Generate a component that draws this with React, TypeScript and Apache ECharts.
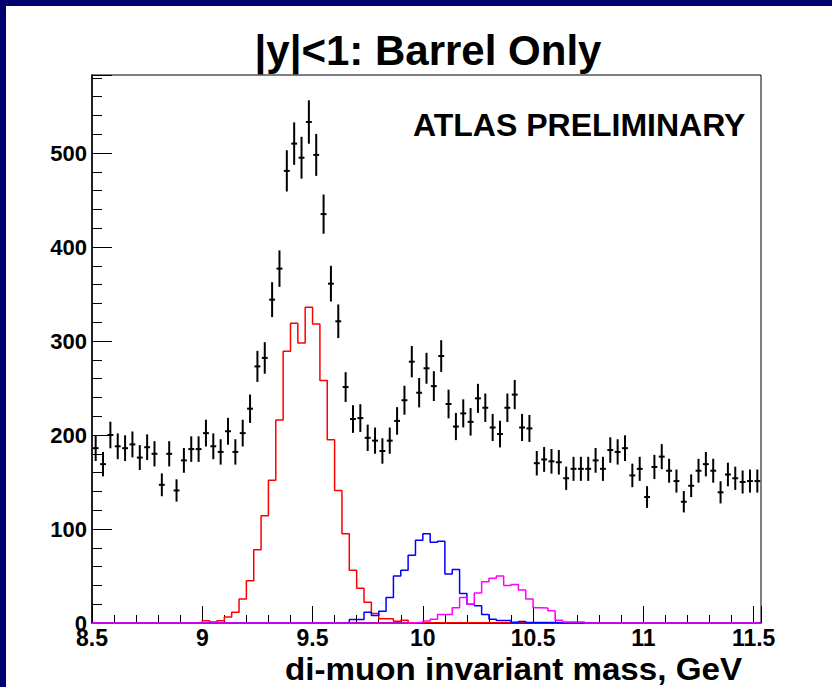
import React, { useEffect, useRef } from "react";
import * as echarts from "echarts";

// Histogram binning: 91 bins of 1/30 GeV starting at 8.5 GeV
const MASS_MIN = 8.5;
const BIN_WIDTH = 1 / 30;
const N_BINS = 91;

// Observed di-muon candidates per bin
const dataCounts = [
  186, 169, 200, 188, 186, 190, 176, 187, 180, 147,
  180, 141, 173, 185, 185, 202, 188, 182, 204, 182,
  202, 228, 273, 282, 344, 377, 481, 510, 495, 533,
  498, 435, 361, 321, 251, 217, 218, 197, 194, 183,
  194, 215, 237, 278, 245, 271, 252, 284, 233, 209,
  223, 214, 239, 229, 208, 201, 229, 243, 208, 207,
  170, 174, 172, 171, 154, 164, 164, 164, 173, 164,
  184, 182, 186, 157, 164, 134, 166, 177, 162, 151,
  129, 146, 162, 169, 162, 139, 158, 154, 150, 151,
  151,
];

// Simulated Upsilon(1S) signal
const upsilon1S = [
  0, 0, 0, 0, 0, 0, 0, 0, 0, 0,
  0, 0, 0, 0, 0, 2.5, 1, 2.3, 6.5, 11.5,
  25.5, 45, 78, 114, 152, 216, 289, 319, 298, 336,
  318, 258, 195, 141, 95, 56, 37, 22, 10, 4.4,
  4.4, 1.8, 2.9, 0.3, 0.3, 0.3, 0.3, 0.3, 0.3, 0.3,
  0.3, 0.3, 0.3, 0.3, 0.3, 0.3, 0.3, 0.3, 0.3, 0,
  0, 0, 0, 0, 0, 0, 0, 0, 0, 0,
  0, 0, 0, 0, 0, 0, 0, 0, 0, 0,
  0, 0, 0, 0, 0, 0, 0, 0, 0, 0,
  0,
];

// Simulated Upsilon(2S) signal
const upsilon2S = [
  0, 0, 0, 0, 0, 0, 0, 0, 0, 0,
  0, 0, 0, 0, 0, 0, 0, 0, 0, 0,
  0, 0, 0, 0, 0, 0, 0, 0, 0, 0,
  0, 0, 0, 0, 0, 3.6, 3.6, 11.5, 8, 12.6,
  27, 50, 56, 72, 88, 95, 86, 87, 52, 57,
  31.5, 20, 18.4, 9, 4, 2.7, 2.7, 0.7, 1.5, 0.5,
  0.5, 0.5, 0.5, 0.3, 0.3, 0.3, 0.3, 0, 0, 0,
  0, 0, 0, 0, 0, 0, 0, 0, 0, 0,
  0, 0, 0, 0, 0, 0, 0, 0, 0, 0,
  0,
];

// Simulated Upsilon(3S) signal
const upsilon3S = [
  0, 0, 0, 0, 0, 0, 0, 0, 0, 0,
  0, 0, 0, 0, 0, 0, 0, 0, 0, 0,
  0, 0, 0, 0, 0, 0, 0, 0, 0, 0,
  0, 0, 0, 0, 0, 0, 0, 0, 0, 0,
  0, 0, 0, 0, 0.7, 2.2, 4, 9, 9, 16.3,
  27, 20, 32, 44, 47.5, 50, 40, 41, 35, 25.5,
  16.3, 16, 13, 3, 1, 1, 1, 0, 0, 0,
  0, 0, 0, 0, 0, 0, 0, 0, 0, 0,
  0, 0, 0, 0, 0, 0, 0, 0, 0, 0,
  0,
];

const Y_MAX = 583;
const MASS_MAX = MASS_MIN + N_BINS * BIN_WIDTH;

const FONT = '"Liberation Sans", Arial, Helvetica, sans-serif';
const NAVY = "#00006e";

// Step outline of a histogram: each bin contributes its low and high edge
function histogramOutline(values: number[]): number[][] {
  const pts: number[][] = [];
  values.forEach((v, i) => {
    pts.push([MASS_MIN + i * BIN_WIDTH, v]);
    pts.push([MASS_MIN + (i + 1) * BIN_WIDTH, v]);
  });
  return pts;
}

function stepSeries(name: string, values: number[], color: string) {
  return {
    name,
    type: "line",
    data: histogramOutline(values),
    symbol: "none",
    showSymbol: false,
    clip: false,
    lineStyle: { color, width: 1.5 },
    emphasis: { disabled: true },
    silent: true,
  };
}

export default function App() {
  const ref = useRef<HTMLDivElement>(null);

  useEffect(() => {
    if (!ref.current) return;
    const chart = echarts.init(ref.current, undefined, { renderer: "svg" });

    const points = dataCounts.map((n, i) => [
      MASS_MIN + (i + 0.5) * BIN_WIDTH,
      n,
      Math.sqrt(n),
    ]);

    const option = {
      animation: false,
      backgroundColor: "#ffffff",
      grid: {
        left: 92,
        top: 75,
        right: 71,
        bottom: 64,
        show: true,
        borderColor: "#000",
        borderWidth: 1,
        backgroundColor: "transparent",
      },
      xAxis: {
        type: "value",
        min: MASS_MIN,
        max: MASS_MAX,
        interval: 0.5,
        axisLine: { show: true, lineStyle: { color: "#000", width: 1.5 } },
        axisTick: { show: true, inside: true, length: 17, lineStyle: { color: "#000", width: 1 } },
        minorTick: { show: true, splitNumber: 5, length: 8, lineStyle: { color: "#000", width: 1 } },
        splitLine: { show: false },
        minorSplitLine: { show: false },
        axisLabel: {
          color: "#000",
          fontFamily: FONT,
          fontWeight: "bold",
          fontSize: 23,
          lineHeight: 23,
          margin: 3,
          showMaxLabel: false,
          hideOverlap: false,
        },
      },
      yAxis: {
        type: "value",
        min: 0,
        max: Y_MAX,
        interval: 100,
        axisLine: { show: true, lineStyle: { color: "#000", width: 1.5 } },
        axisTick: { show: true, inside: true, length: 20, lineStyle: { color: "#000", width: 1 } },
        minorTick: { show: true, splitNumber: 5, length: 10, lineStyle: { color: "#000", width: 1 } },
        splitLine: { show: false },
        minorSplitLine: { show: false },
        axisLabel: {
          color: "#000",
          fontFamily: FONT,
          fontWeight: "bold",
          fontSize: 22,
          lineHeight: 22,
          margin: 5,
          showMaxLabel: false,
          hideOverlap: false,
        },
      },
      series: [
        stepSeries("Upsilon(1S)", upsilon1S, "#ff0000"),
        stepSeries("Upsilon(2S)", upsilon2S, "#0000ff"),
        stepSeries("Upsilon(3S)", upsilon3S, "#ff00ff"),
        {
          name: "data",
          type: "custom",
          data: points,
          encode: { x: 0, y: 1 },
          silent: true,
          z: 5,
          renderItem: (params: any, api: any) => {
            const x = api.value(0);
            const y = api.value(1);
            const e = api.value(2);
            const top = api.coord([x, y + e]);
            const bot = api.coord([x, y - e]);
            const mid = api.coord([x, y]);
            const halfW = api.size([BIN_WIDTH, 0])[0] * 0.4;
            const style = { stroke: "#000", lineWidth: 2 };
            return {
              type: "group",
              children: [
                { type: "line", shape: { x1: top[0], y1: top[1], x2: bot[0], y2: bot[1] }, style },
                { type: "line", shape: { x1: mid[0] - halfW, y1: mid[1], x2: mid[0] + halfW, y2: mid[1] }, style },
              ],
            };
          },
        },
      ],
      graphic: [
        { type: "rect", shape: { x: 0, y: 0, width: 832, height: 6 }, style: { fill: NAVY }, silent: true },
        { type: "rect", shape: { x: 0, y: 0, width: 6, height: 687 }, style: { fill: NAVY }, silent: true },
        {
          type: "text",
          x: 428,
          y: 50,
          style: {
            text: "|y|<1: Barrel Only",
            font: `bold 42px ${FONT}`,
            fill: "#000",
            textAlign: "center",
            textVerticalAlign: "middle",
          },
        },
        {
          type: "text",
          x: 413,
          y: 125,
          style: {
            text: "ATLAS PRELIMINARY",
            font: `bold 32px ${FONT}`,
            fill: "#000",
            textAlign: "left",
            textVerticalAlign: "middle",
          },
        },
        {
          type: "text",
          x: 742,
          y: 669,
          scaleX: 1.07,
          style: {
            text: "di-muon invariant mass, GeV",
            font: `bold 31px ${FONT}`,
            fill: "#000",
            textAlign: "right",
            textVerticalAlign: "middle",
          },
        },
      ],
    };

    chart.setOption(option as any);
    return () => chart.dispose();
  }, []);

  return (
    <div style={{ position: "absolute", left: 0, top: 0, width: 832, height: 687, background: "#fff" }}>
      <div ref={ref} style={{ width: 832, height: 687 }} />
    </div>
  );
}
